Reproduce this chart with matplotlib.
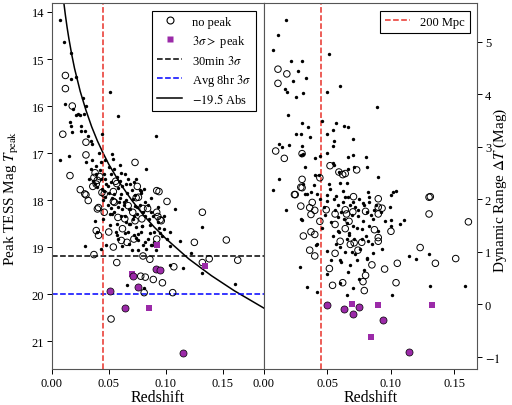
import matplotlib
matplotlib.use("Agg")
from matplotlib import pyplot as plt
from matplotlib.lines import Line2D
import numpy as np

plt.rcParams['font.family'] = ['Liberation Serif', 'DejaVu Serif']
plt.rcParams['mathtext.fontset'] = 'stix'

# ---- left panel: peak magnitude vs redshift ----
peak_z = [0.0074, 0.0109, 0.017, 0.021, 0.0165, 0.027, 0.051, 0.012, 0.030, 0.019,
          0.023, 0.021, 0.025, 0.028, 0.058, 0.016, 0.017, 0.018, 0.026, 0.026,
          0.029, 0.032, 0.044, 0.091, 0.034, 0.035, 0.015, 0.0074, 0.041, 0.035,
          0.030, 0.043, 0.053, 0.054, 0.039, 0.042, 0.046, 0.050, 0.055, 0.057,
          0.061, 0.064, 0.067, 0.072, 0.083, 0.077, 0.078, 0.060, 0.047, 0.036,
          0.038, 0.033, 0.040, 0.044, 0.049, 0.052, 0.062, 0.070, 0.066,
          0.029, 0.038, 0.043, 0.046, 0.047, 0.052, 0.0515, 0.055, 0.056, 0.058,
          0.061, 0.0615, 0.064, 0.065, 0.067, 0.068, 0.070, 0.071, 0.073, 0.074,
          0.076, 0.0785, 0.081, 0.0815, 0.080, 0.078, 0.0815, 0.083, 0.084, 0.086,
          0.089, 0.090, 0.091, 0.093, 0.097, 0.0985, 0.101, 0.1035, 0.1035, 0.108,
          0.112, 0.1035, 0.115, 0.122, 0.132, 0.132, 0.161, 0.066, 0.081, 0.062,
          0.048, 0.040, 0.055, 0.0755, 0.059, 0.063, 0.069, 0.072, 0.075, 0.079,
          0.085, 0.088, 0.053, 0.057, 0.065, 0.069, 0.074, 0.087, 0.095, 0.045,
          0.048, 0.050, 0.053, 0.058, 0.060, 0.063, 0.065, 0.068, 0.071, 0.073,
          0.075, 0.077, 0.079, 0.082, 0.084, 0.087, 0.058, 0.061, 0.057, 0.064,
          0.068, 0.072, 0.076, 0.080, 0.086, 0.090, 0.094, 0.051, 0.049, 0.045,
          0.043, 0.039, 0.034, 0.047, 0.052, 0.060, 0.069, 0.074, 0.087, 0.093,
          0.098]
peak_mag = [14.16, 14.64, 14.88, 15.38, 15.43, 15.83, 15.71, 15.95, 16.00, 16.07,
            16.17, 16.20, 16.19, 16.17, 16.21, 16.35, 16.43, 16.55, 16.42, 16.53,
            16.53, 16.63, 16.59, 16.63, 16.74, 16.80, 17.07, 17.15, 17.00, 17.15,
            17.20, 17.20, 17.03, 17.12, 17.27, 17.36, 17.45, 17.30, 17.35, 17.50,
            17.42, 17.44, 17.55, 17.62, 17.35, 17.78, 17.80, 17.60, 17.55, 17.60,
            17.66, 17.55, 17.72, 17.77, 17.70, 17.62, 17.70, 17.78, 17.85,
            18.97, 18.44, 19.04, 17.80, 17.94, 18.16, 18.54, 18.26, 18.68, 18.83,
            17.87, 18.19, 18.33, 18.47, 18.68, 18.93, 19.07, 17.98, 18.12, 18.58,
            18.72, 17.84, 17.77, 18.05, 18.26, 18.68, 18.90, 19.04, 18.83, 18.54,
            18.33, 18.68, 19.07, 18.47, 18.76, 18.61, 18.83, 18.97, 18.68, 18.19,
            18.88, 19.38, 19.45, 19.12, 18.58, 19.55, 19.78, 19.80, 19.88, 18.97,
            18.95, 18.68, 17.87, 19.07, 18.05, 18.10, 18.20, 18.35, 18.15, 18.55,
            18.40, 18.95, 18.30, 18.75, 18.00, 18.50, 18.80, 18.95, 18.70, 18.40,
            17.65, 17.85, 17.95, 17.75, 17.95, 18.05, 17.65, 18.20, 18.40, 17.90,
            18.30, 18.10, 18.55, 18.35, 18.10, 18.25, 18.15, 18.35, 18.50, 18.70,
            18.50, 18.75, 18.85, 18.95, 18.70, 18.90, 18.60, 18.30, 18.10, 18.00,
            17.55, 17.45, 17.35, 17.15, 17.45, 17.25, 17.65, 17.55, 17.95, 18.15,
            18.35]

nopeak_z = [0.012, 0.012, 0.018, 0.0097, 0.030, 0.030, 0.016, 0.073, 0.038, 0.042,
            0.040, 0.037, 0.039, 0.025, 0.029, 0.030, 0.032, 0.036, 0.046, 0.057,
            0.054, 0.075, 0.094, 0.044, 0.056, 0.092, 0.101, 0.080, 0.074, 0.054,
            0.041, 0.040, 0.046, 0.039, 0.041, 0.050, 0.037, 0.055, 0.058, 0.062,
            0.067, 0.071, 0.073, 0.076, 0.079, 0.084, 0.092, 0.096, 0.092, 0.054,
            0.061, 0.072, 0.132, 0.125, 0.153, 0.163, 0.138, 0.132, 0.107, 0.057,
            0.080, 0.086, 0.078, 0.082, 0.089, 0.097, 0.081, 0.106, 0.052, 0.066,
            0.064, 0.093, 0.095]
nopeak_mag = [15.35, 15.63, 16.00, 16.60, 16.77, 17.04, 17.48, 17.20, 17.42, 17.50,
              17.58, 17.52, 17.66, 17.78, 17.87, 17.89, 18.01, 17.71, 17.87, 17.65,
              17.82, 17.71, 17.82, 17.84, 17.60, 17.80, 18.03, 18.18, 17.95, 18.03,
              18.16, 18.19, 18.26, 18.65, 18.75, 18.68, 19.16, 18.05, 18.37, 18.61,
              18.12, 18.26, 18.44, 17.94, 18.40, 18.18, 18.26, 18.44, 18.83, 19.00,
              18.86, 18.83, 18.26, 18.90, 18.85, 19.28, 19.25, 19.33, 19.42, 19.33,
              19.19, 19.26, 19.62, 19.64, 19.69, 19.76, 19.97, 19.97, 20.53, 18.90,
              18.40, 18.35, 18.42]

faint_sq_z = [0.092, 0.070, 0.134, 0.085]
faint_sq_mag = [18.95, 19.57, 19.40, 20.30]
faint_ci_z = [0.051, 0.071, 0.076, 0.064, 0.0915, 0.0945, 0.115]
faint_ci_mag = [19.94, 19.62, 19.86, 20.29, 19.46, 19.48, 21.25]

# -19.5 absolute magnitude track
track_z = [0.0105, 0.012, 0.0135, 0.015, 0.0175, 0.020, 0.025, 0.030, 0.035, 0.040,
           0.045, 0.050, 0.060, 0.070, 0.080, 0.090, 0.100, 0.120, 0.140, 0.160, 0.186]
track_mag = [13.78, 14.07, 14.33, 14.56, 14.90, 15.20, 15.69, 16.09, 16.44, 16.74,
             17.00, 17.24, 17.65, 18.00, 18.31, 18.58, 18.82, 19.25, 19.61, 19.93, 20.30]

lim_30min = 19.19
lim_8hr = 20.0
z_200mpc = 0.045

# ---- right panel: dynamic range vs redshift ----
dr_peak_z = [0.017, 0.011, 0.0074, 0.021, 0.030, 0.027, 0.023, 0.033, 0.0515, 0.0166,
             0.018, 0.025, 0.031, 0.050, 0.060, 0.089, 0.019, 0.046, 0.030, 0.035,
             0.057, 0.063, 0.066, 0.054, 0.025, 0.029, 0.036, 0.050, 0.070, 0.030,
             0.055, 0.054, 0.012, 0.014, 0.020, 0.029, 0.031, 0.040, 0.044, 0.050,
             0.066, 0.070, 0.080, 0.032, 0.054, 0.055, 0.059, 0.040, 0.043, 0.066,
             0.071, 0.081, 0.090, 0.012, 0.031, 0.039, 0.051, 0.060, 0.065, 0.0069,
             0.032, 0.037, 0.042, 0.050, 0.082, 0.102, 0.104, 0.100, 0.017, 0.028,
             0.0335, 0.042, 0.034, 0.030, 0.041, 0.050, 0.050, 0.050, 0.058, 0.058,
             0.061, 0.060, 0.065, 0.066, 0.073, 0.0705, 0.075, 0.081, 0.086, 0.093,
             0.101, 0.114, 0.120, 0.130, 0.131, 0.158, 0.100, 0.110, 0.107, 0.100,
             0.095, 0.083, 0.078, 0.077, 0.067, 0.065, 0.080, 0.099, 0.029, 0.042,
             0.053, 0.059, 0.067, 0.081, 0.083, 0.084, 0.069, 0.060, 0.081, 0.057,
             0.062, 0.068, 0.072, 0.075, 0.088, 0.092, 0.063, 0.070, 0.074, 0.086,
             0.090, 0.056, 0.060, 0.071, 0.076, 0.085, 0.044, 0.047, 0.064, 0.078,
             0.052, 0.055, 0.062, 0.066, 0.070, 0.074, 0.079, 0.083, 0.087, 0.058,
             0.061, 0.065, 0.069, 0.073, 0.077, 0.082, 0.054, 0.057, 0.064, 0.072,
             0.053, 0.068, 0.079, 0.046, 0.048]
dr_peak = [5.41, 5.13, 4.85, 4.64, 4.64, 4.45, 4.25, 4.31, 4.76, 4.10,
           4.05, 3.94, 4.02, 4.04, 4.15, 3.75, 3.61, 3.49, 3.45, 3.38,
           3.45, 3.39, 3.37, 3.32, 3.24, 3.24, 3.19, 3.24, 3.15, 3.02,
           3.11, 3.02, 3.05, 3.00, 3.03, 2.84, 2.87, 2.78, 2.83, 2.89,
           2.81, 2.85, 2.80, 2.62, 2.70, 2.65, 2.52, 2.46, 2.46, 2.57,
           2.62, 2.62, 2.43, 2.38, 2.29, 2.27, 2.30, 2.31, 2.31, 2.17,
           2.11, 2.14, 2.11, 2.08, 2.14, 2.13, 2.16, 2.08, 1.79, 0.70,
           0.32, 0.24, 2.11, 1.61, 1.12, 1.02, 0.58, 1.97, 1.67, 1.39,
           0.80, 0.41, 0.17, 0.62, 0.85, 0.31, 0.48, 0.86, 0.97, 1.05,
           0.17, 0.91, 0.87, 0.95, 0.35, 0.34, 1.60, 1.60, 1.52, 1.49,
           1.58, 1.49, 1.58, 1.44, 1.36, 1.24, 1.30, 1.86, 1.63, 1.15,
           1.57, 1.38, 1.31, 1.76, 1.95, 1.70, 1.00, 0.84, 0.88, 2.07,
           1.95, 1.90, 1.85, 2.00, 1.90, 1.75, 1.62, 1.50, 1.68, 1.62,
           1.40, 1.80, 1.10, 1.25, 1.05, 1.15, 2.00, 1.85, 2.05, 1.92,
           2.20, 2.00, 2.15, 2.05, 1.95, 1.80, 1.90, 2.05, 1.80, 1.90,
           1.75, 1.55, 1.70, 1.45, 1.25, 1.20, 1.30, 1.15, 1.00, 0.95,
           0.85, 0.75, 0.65, 1.45, 1.70]

dr_nopeak_z = [0.011, 0.018, 0.011, 0.0092, 0.016, 0.030, 0.044, 0.052, 0.059, 0.064,
               0.073, 0.030, 0.030, 0.024, 0.0705, 0.090, 0.131, 0.0246, 0.029, 0.029,
               0.036, 0.038, 0.037, 0.040, 0.044, 0.031, 0.037, 0.040, 0.036, 0.040,
               0.049, 0.056, 0.056, 0.060, 0.056, 0.0515, 0.054, 0.064, 0.065, 0.070,
               0.067, 0.064, 0.068, 0.071, 0.074, 0.077, 0.062, 0.078, 0.080, 0.079,
               0.085, 0.080, 0.090, 0.093, 0.090, 0.087, 0.090, 0.090, 0.095, 0.100,
               0.105, 0.104, 0.123, 0.130, 0.130, 0.135, 0.151, 0.161, 0.062]
dr_nopeak = [4.48, 4.39, 4.21, 2.92, 2.78, 2.87, 2.41, 2.64, 2.52, 2.49,
             2.56, 2.38, 2.22, 2.09, 2.05, 2.01, 2.05, 2.09, 2.23, 1.87,
             1.84, 1.94, 1.71, 1.79, 1.58, 1.30, 1.38, 1.33, 1.03, 0.92,
             1.80, 1.72, 1.52, 1.20, 0.97, 0.68, 0.36, 1.80, 1.72, 1.76,
             1.58, 1.44, 1.14, 1.17, 1.03, 1.18, 0.41, 0.43, 0.55, 0.26,
             0.75, 1.77, 1.85, 1.83, 1.72, 1.42, 1.27, 1.20, 0.67, 1.39,
             0.78, 0.41, 1.08, 2.04, 1.72, 0.78, 0.87, 1.57, 2.47]

dr_sq_z = [0.069, 0.090, 0.084, 0.132]
dr_sq = [0.00, -0.02, -0.63, -0.01]
dr_ci_z = [0.050, 0.063, 0.0705, 0.075, 0.094, 0.114]
dr_ci = [-0.02, -0.10, -0.19, -0.06, -0.31, -0.92]

purple = '#9b2aa8'

fig = plt.figure(figsize=(5.12, 4.06), dpi=100)
ax1 = fig.add_axes([0.101, 0.088, 0.4146, 0.902])
ax2 = fig.add_axes([0.5156, 0.088, 0.4166, 0.902])

# left
ax1.scatter(peak_z, peak_mag, s=6, c='k', lw=0, zorder=3)
ax1.scatter(nopeak_z, nopeak_mag, s=22, facecolors='none', edgecolors='k', lw=0.7, zorder=3)
ax1.scatter(faint_sq_z, faint_sq_mag, s=14, marker='s', c=purple, lw=0, zorder=4)
ax1.scatter(faint_ci_z, faint_ci_mag, s=26, c=purple, edgecolors='k', lw=0.5, zorder=4)
ax1.plot(track_z, track_mag, 'k-', lw=1.1)
ax1.axhline(lim_30min, color='k', ls='--', lw=1.1)
ax1.axhline(lim_8hr, color='b', ls='--', lw=1.1)
ax1.axvline(z_200mpc, color='#e8312a', ls='--', lw=1.1)
ax1.set_xlim(0, 0.186)
ax1.set_ylim(21.6, 13.81)
ax1.set_xticks([0.0, 0.05, 0.10, 0.15])
ax1.set_xticklabels(['0.00', '0.05', '0.10', '0.15'])
ax1.set_yticks([14, 15, 16, 17, 18, 19, 20, 21])
ax1.set_xlabel('Redshift', fontsize=11.5, labelpad=0)
ax1.set_ylabel(r'Peak TESS Mag $T_{\rm peak}$', fontsize=11)
ax1.yaxis.set_label_coords(-0.185, 0.47)
ax1.yaxis.label.set_va('center')

handles = [
    Line2D([], [], ls='none', marker='o', mfc='none', mec='k', ms=5, mew=0.8),
    Line2D([], [], ls='none', marker='s', mfc=purple, mec='none', ms=4),
    Line2D([], [], color='k', ls='--', lw=1.1),
    Line2D([], [], color='b', ls='--', lw=1.1),
    Line2D([], [], color='k', ls='-', lw=1.1),
]
labels = ['no peak', r'$3\sigma >$ peak', r'30min $3\sigma$', r'Avg 8hr $3\sigma$', r'$-19.5$ Abs']
leg1 = ax1.legend(handles, labels, loc='upper right', fontsize=9, fancybox=False,
                  edgecolor='k', framealpha=1, borderpad=0.4, labelspacing=0.4,
                  handlelength=2.0, handletextpad=0.8, borderaxespad=0.6)
leg1.get_frame().set_linewidth(0.8)

# right
ax2.scatter(dr_peak_z, dr_peak, s=6, c='k', lw=0, zorder=3)
ax2.scatter(dr_nopeak_z, dr_nopeak, s=22, facecolors='none', edgecolors='k', lw=0.7, zorder=3)
ax2.scatter(dr_sq_z, dr_sq, s=14, marker='s', c=purple, lw=0, zorder=4)
ax2.scatter(dr_ci_z, dr_ci, s=26, c=purple, edgecolors='k', lw=0.5, zorder=4)
ax2.axvline(z_200mpc, color='#e8312a', ls='--', lw=1.1, label='200 Mpc')
ax2.set_xlim(0, 0.168)
ax2.set_ylim(-1.24, 5.74)
ax2.set_xticks([0.0, 0.05, 0.10, 0.15])
ax2.set_xticklabels(['0.00', '0.05', '0.10', '0.15'])
ax2.yaxis.tick_right()
ax2.yaxis.set_label_position('right')
ax2.set_yticks([-1, 0, 1, 2, 3, 4, 5])
ax2.set_yticklabels(['$-1$', '0', '1', '2', '3', '4', '5'])
ax2.set_xlabel('Redshift', fontsize=11.5, labelpad=0)
ax2.set_ylabel(r'Dynamic Range $\Delta T$ (Mag)', fontsize=11)
ax2.yaxis.set_label_coords(1.107, 0.49)
ax2.yaxis.label.set_va('center')
leg2 = ax2.legend(loc='upper right', fontsize=9, fancybox=False, edgecolor='k',
                  framealpha=1, borderpad=0.4, handlelength=2.0, borderaxespad=0.6)
leg2.get_frame().set_linewidth(0.8)

for ax in (ax1, ax2):
    ax.tick_params(labelsize=9, length=3.5, width=0.7, pad=2)
    for sp in ax.spines.values():
        sp.set_linewidth(0.8)
        sp.set_color('#555555')

fig.savefig('out.png', dpi=100)
